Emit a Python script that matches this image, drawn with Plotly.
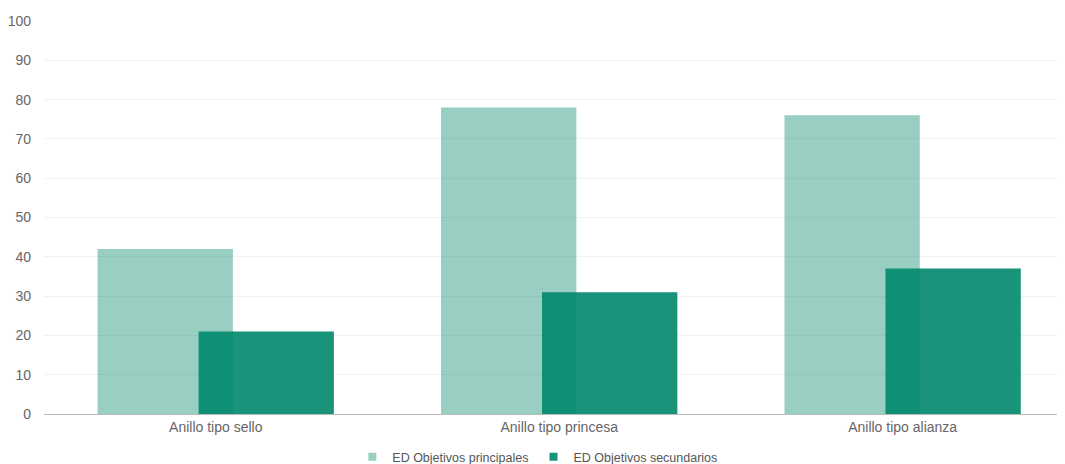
import plotly.graph_objects as go

categories = ["Anillo tipo sello", "Anillo tipo princesa", "Anillo tipo alianza"]
principales = [42, 78, 76]
secundarios = [21, 31, 37]
y_ticks = [0, 10, 20, 30, 40, 50, 60, 70, 80, 90, 100]

pos = list(range(len(categories)))
bar_w = 0.394
light = "rgba(0,135,106,0.4)"
dark = "rgba(0,135,106,0.9)"

fig = go.Figure()
fig.add_trace(go.Bar(
    x=pos, y=principales, name="ED Objetivos principales",
    width=bar_w, offset=-0.344, showlegend=False,
    marker=dict(color=light, line=dict(width=0)),
))
fig.add_trace(go.Bar(
    x=pos, y=secundarios, name="ED Objetivos secundarios",
    width=bar_w, offset=-0.050, showlegend=False,
    marker=dict(color=dark, line=dict(width=0)),
))
# legend entries with small square symbols
for name, col in [("ED Objetivos principales", light), ("ED Objetivos secundarios", dark)]:
    fig.add_trace(go.Scatter(
        x=[None], y=[None], mode="markers", name=name,
        marker=dict(symbol="square", size=8, color=col),
    ))

# page body has an 8px margin, so the figure margins are reduced by 8
fig.update_layout(
    width=1065, height=464,
    margin=dict(l=36, r=0, t=13, b=58, autoexpand=False),
    barmode="overlay",
    plot_bgcolor="white", paper_bgcolor="white",
    font=dict(family="Liberation Sans, Arial, sans-serif", size=14, color="#666"),
    showlegend=True,
    legend=dict(orientation="h", x=0.497, xanchor="center", xref="container",
                y=0.032, yanchor="middle", yref="container",
                font=dict(size=12.5, color="#555"), itemwidth=30,
                tracegroupgap=0),
    xaxis=dict(tickmode="array", tickvals=pos, ticktext=categories,
               range=[-0.5, 2.496], showgrid=False, zeroline=False,
               showline=True, linecolor="#bbb", ticks="", ticklen=0,
               automargin=False),
    yaxis=dict(range=[0, 100], tickvals=y_ticks, showgrid=True,
               gridcolor="#f2f2f2", zeroline=False, ticks="",
               ticklabelstandoff=12, automargin=False),
)

fig.write_html("out.html")
